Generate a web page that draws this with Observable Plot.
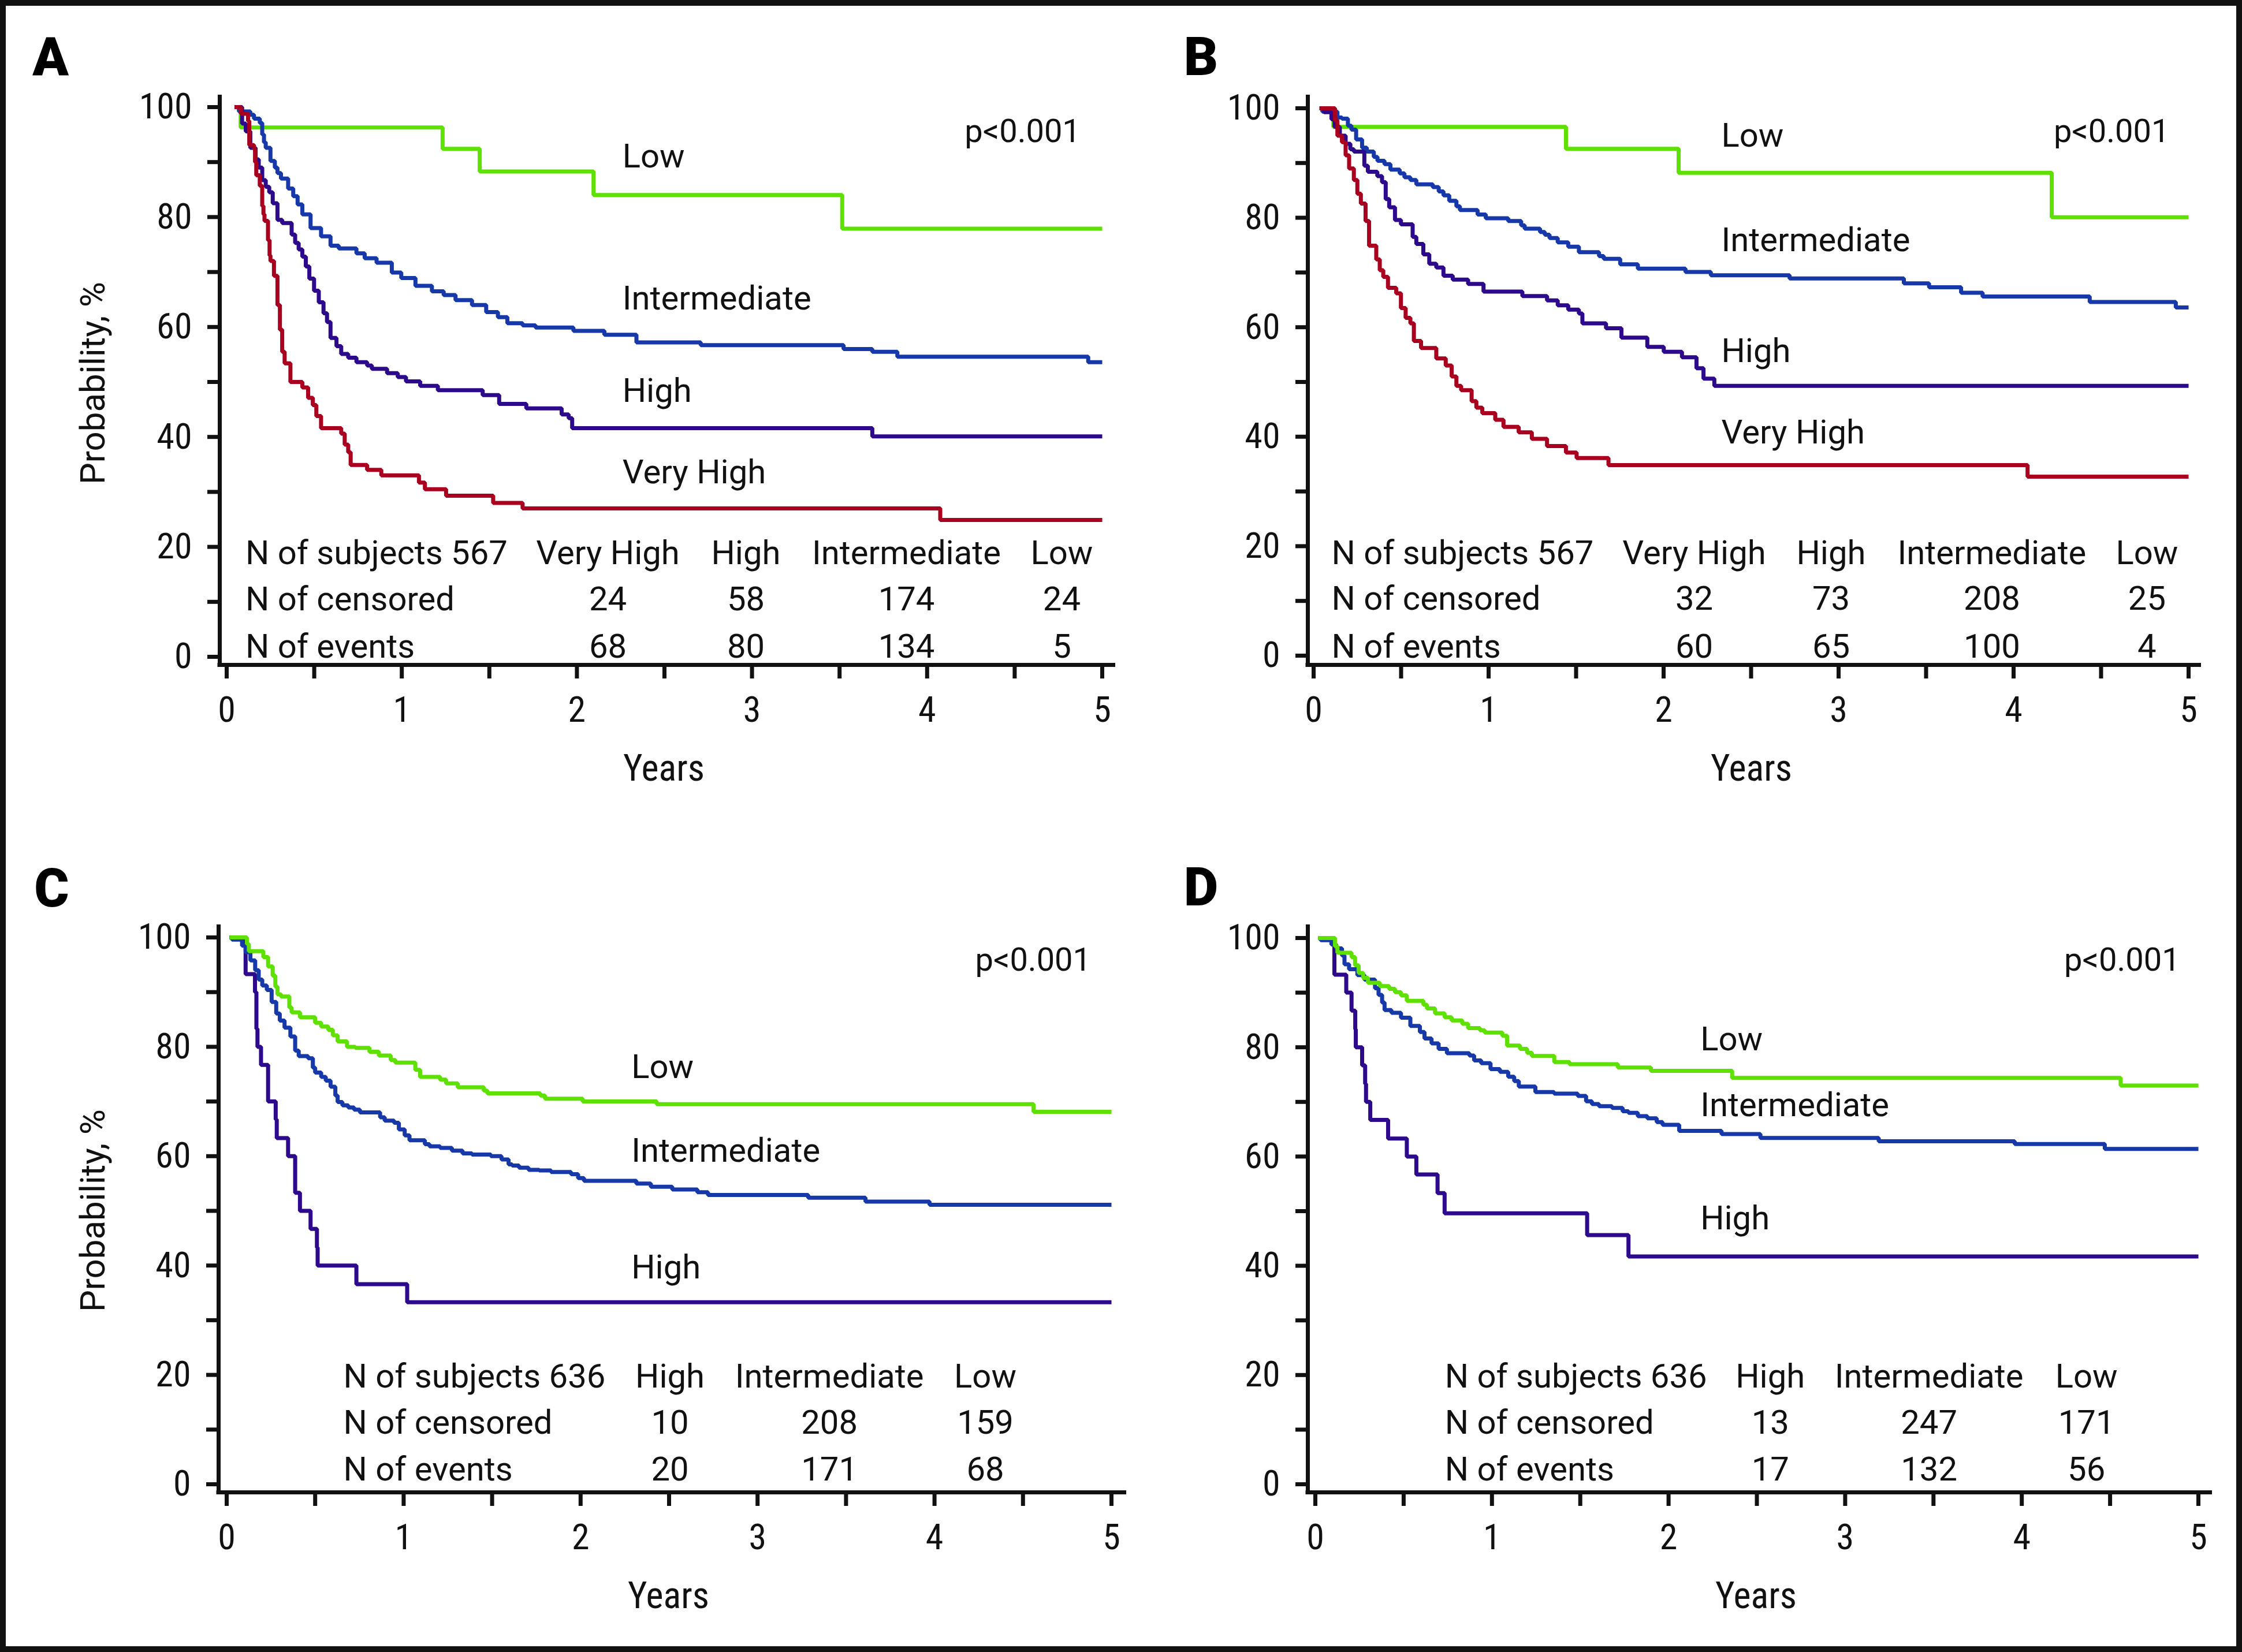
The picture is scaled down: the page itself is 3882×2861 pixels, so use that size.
<!DOCTYPE html>
<html><head><meta charset="utf-8">
<script src="https://cdn.jsdelivr.net/npm/d3@7"></script>
<script src="https://cdn.jsdelivr.net/npm/@observablehq/plot@0.6"></script>
<style>
html,body{margin:0;padding:0;background:#fff;}
#page{position:relative;width:3882px;height:2861px;overflow:hidden;background:#fff;}
#page > svg{position:absolute;}
#border{position:absolute;left:0;top:0;width:3882px;height:2861px;box-sizing:border-box;border:10px solid #111;pointer-events:none;z-index:5;}
</style></head>
<body><div id="page"><div id="border"></div></div>
<script>
// ---------------- DATA (Kaplan-Meier steps: [years, probability %]) ----------------
const groupsAB = ["Very High", "High", "Intermediate", "Low"];
const groupsCD = ["High", "Intermediate", "Low"];
const rowLabels = ["N of censored", "N of events"];
const xTickValues = [0, 0.5, 1, 1.5, 2, 2.5, 3, 3.5, 4, 4.5, 5];
const yTickValues = [0, 10, 20, 30, 40, 50, 60, 70, 80, 90, 100];

// Panel A
const aSubjects = "N of subjects 567";
const aCensored = [24, 58, 174, 24];
const aEvents = [68, 80, 134, 5];
const aLow = [[0.045,100],[0.08,96.3],[1.233,92.4],[1.445,88.3],[2.095,84.0],[3.515,77.9],[5.0,77.9]];
const aInt = [[0.045,100],[0.07,99.2],[0.135,98.6],[0.156,97.9],[0.189,97.1],[0.203,95.0],[0.213,93.6],[0.223,92.6],[0.25,90.2],[0.275,89.0],[0.29,88.0],[0.31,87.0],[0.351,85.2],[0.38,83.8],[0.405,82.3],[0.432,80.5],[0.479,78.0],[0.539,76.5],[0.593,74.8],[0.64,74.3],[0.741,73.4],[0.788,72.5],[0.856,71.7],[0.943,69.9],[0.997,68.9],[1.078,67.5],[1.172,66.5],[1.239,65.8],[1.307,64.9],[1.401,64.0],[1.482,62.7],[1.549,61.8],[1.603,60.7],[1.69,60.3],[1.764,59.9],[1.98,59.3],[2.157,58.6],[2.34,57.2],[2.707,56.7],[3.523,56.0],[3.687,55.5],[3.83,54.6],[4.92,53.6],[5.0,53.6]];
const aHigh = [[0.045,100],[0.088,97.0],[0.109,95.6],[0.135,92.6],[0.165,90.5],[0.183,89.0],[0.203,86.7],[0.223,85.5],[0.243,84.5],[0.263,82.5],[0.29,79.5],[0.317,78.9],[0.371,76.8],[0.391,75.3],[0.411,74.1],[0.432,72.8],[0.452,71.0],[0.472,68.8],[0.499,66.6],[0.526,64.5],[0.553,62.5],[0.573,60.9],[0.593,58.0],[0.627,56.5],[0.654,55.1],[0.694,54.4],[0.741,53.6],[0.802,53.0],[0.829,52.4],[0.916,51.6],[0.977,50.9],[1.024,50.1],[1.105,49.3],[1.206,48.5],[1.462,47.6],[1.556,46.0],[1.711,45.2],[1.913,44.1],[1.953,43.4],[1.973,41.6],[3.687,40.1],[5.0,40.1]];
const aVHigh = [[0.045,100],[0.082,98.8],[0.122,97.5],[0.129,93.1],[0.156,92.4],[0.162,90.0],[0.169,87.6],[0.189,85.7],[0.203,82.0],[0.21,80.5],[0.216,79.3],[0.236,75.8],[0.245,73.0],[0.25,72.0],[0.27,69.3],[0.29,64.0],[0.304,59.5],[0.317,55.5],[0.331,53.4],[0.364,50.0],[0.432,49.0],[0.465,47.1],[0.492,45.8],[0.512,43.8],[0.539,41.6],[0.654,40.6],[0.674,38.6],[0.694,37.2],[0.708,34.9],[0.802,34.0],[0.883,33.0],[1.098,31.7],[1.132,30.5],[1.253,29.3],[1.522,28.0],[1.69,27.0],[4.075,24.9],[5.0,24.9]];

// Panel B
const bSubjects = "N of subjects 567";
const bCensored = [32, 73, 208, 25];
const bEvents = [60, 65, 100, 4];
const bLow = [[0.034,100],[0.113,96.6],[1.442,92.6],[2.086,88.2],[4.218,80.1],[5.0,80.1]];
const bInt = [[0.034,100],[0.05,99.4],[0.136,98.3],[0.162,98.1],[0.196,96.8],[0.216,96.1],[0.243,94.3],[0.277,92.8],[0.304,92.1],[0.344,91.1],[0.365,90.4],[0.405,89.8],[0.439,88.8],[0.492,88.1],[0.519,87.4],[0.553,86.9],[0.587,86.1],[0.681,85.6],[0.715,84.8],[0.742,84.1],[0.775,83.1],[0.816,82.1],[0.836,81.4],[0.937,80.6],[0.984,79.9],[1.112,79.4],[1.186,78.6],[1.206,78.0],[1.294,77.4],[1.321,76.9],[1.348,76.3],[1.395,75.5],[1.455,74.7],[1.516,73.7],[1.631,73.0],[1.658,72.5],[1.752,71.5],[1.853,70.7],[2.125,70.1],[2.27,69.5],[2.72,68.9],[3.373,68.0],[3.517,67.3],[3.70,66.3],[3.823,65.6],[4.435,64.6],[4.927,63.6],[5.0,63.6]];
const bHigh = [[0.034,100],[0.06,99.3],[0.102,98.0],[0.12,96.6],[0.15,95.0],[0.183,93.5],[0.21,92.5],[0.23,92.1],[0.29,89.5],[0.31,88.4],[0.364,87.6],[0.391,86.5],[0.412,83.4],[0.432,81.9],[0.465,79.6],[0.499,78.8],[0.566,76.5],[0.587,75.2],[0.627,73.3],[0.661,71.6],[0.701,70.9],[0.742,69.4],[0.795,68.7],[0.883,67.9],[0.971,66.5],[1.193,65.7],[1.334,64.9],[1.395,64.0],[1.455,63.2],[1.516,62.5],[1.536,60.7],[1.671,59.8],[1.759,58.1],[1.907,56.4],[2.001,55.5],[2.105,54.5],[2.188,52.5],[2.228,50.6],[2.29,49.3],[5.0,49.3]];
const bVHigh = [[0.034,100],[0.122,97.8],[0.136,95.0],[0.162,93.8],[0.183,91.4],[0.203,89.0],[0.23,86.9],[0.25,84.4],[0.27,82.6],[0.297,79.4],[0.317,74.9],[0.358,72.4],[0.378,70.4],[0.398,69.2],[0.425,67.2],[0.472,66.2],[0.499,63.5],[0.526,61.7],[0.553,60.7],[0.573,57.5],[0.614,56.2],[0.701,54.3],[0.755,53.0],[0.789,51.0],[0.816,49.3],[0.843,48.5],[0.903,46.5],[0.93,45.3],[0.964,44.3],[1.038,43.1],[1.085,41.8],[1.172,40.8],[1.247,39.6],[1.334,38.3],[1.442,37.1],[1.503,36.1],[1.685,34.8],[4.08,32.7],[5.0,32.7]];

// Panel C
const cSubjects = "N of subjects 636";
const cCensored = [10, 208, 159];
const cEvents = [20, 171, 68];
const cLow = [[0.016,100],[0.114,98.8],[0.125,97.5],[0.207,96.4],[0.234,94.7],[0.26,93.0],[0.275,91.0],[0.287,89.6],[0.307,89.2],[0.354,87.2],[0.367,86.3],[0.414,85.4],[0.5,84.4],[0.534,83.7],[0.574,83.1],[0.6,82.1],[0.627,81.0],[0.68,80.0],[0.727,79.8],[0.807,79.1],[0.86,78.4],[0.927,77.6],[0.953,77.1],[1.066,75.8],[1.093,74.5],[1.206,74.0],[1.24,73.3],[1.306,72.6],[1.453,72.0],[1.473,71.5],[1.772,71.1],[1.799,70.5],[2.012,70.0],[2.43,69.5],[4.56,68.1],[5.0,68.1]];
const cInt = [[0.016,100],[0.03,99.6],[0.087,98.5],[0.107,97.3],[0.134,95.8],[0.161,94.0],[0.181,92.3],[0.201,91.2],[0.227,90.4],[0.254,88.2],[0.28,86.1],[0.3,84.8],[0.327,83.5],[0.36,81.9],[0.387,79.3],[0.407,78.3],[0.46,77.9],[0.487,76.2],[0.5,75.3],[0.534,74.5],[0.56,73.8],[0.587,72.7],[0.614,71.1],[0.627,69.9],[0.654,69.3],[0.687,68.9],[0.72,68.5],[0.753,68.0],[0.867,67.1],[0.893,66.5],[0.946,66.1],[0.973,64.9],[1.006,63.8],[1.033,62.9],[1.12,62.2],[1.146,61.8],[1.206,61.5],[1.273,61.0],[1.333,60.5],[1.386,60.3],[1.493,60.0],[1.553,59.4],[1.593,58.5],[1.613,58.3],[1.652,57.9],[1.706,57.5],[1.766,57.4],[1.833,57.1],[1.946,56.7],[1.986,56.0],[2.019,55.5],[2.315,55.0],[2.397,54.4],[2.518,53.9],[2.66,53.4],[2.72,52.9],[3.286,52.4],[3.61,51.7],[3.972,51.1],[5.0,51.1]];
const cHigh = [[0.016,100],[0.107,93.3],[0.16,90.0],[0.168,83.3],[0.174,80.0],[0.194,76.7],[0.234,70.0],[0.277,66.7],[0.283,63.3],[0.347,60.0],[0.387,53.3],[0.414,50.0],[0.474,46.7],[0.51,43.3],[0.514,40.0],[0.733,36.6],[1.02,33.3],[5.0,33.3]];

// Panel D
const dSubjects = "N of subjects 636";
const dCensored = [13, 247, 171];
const dEvents = [17, 132, 56];
const dLow = [[0.015,100],[0.111,98.5],[0.125,97.3],[0.205,96.5],[0.225,95.0],[0.245,93.6],[0.271,92.7],[0.298,91.8],[0.365,91.2],[0.418,90.7],[0.451,90.1],[0.485,89.5],[0.518,88.5],[0.612,87.8],[0.632,87.1],[0.678,86.2],[0.732,85.5],[0.772,84.9],[0.832,84.3],[0.865,83.5],[0.932,83.1],[0.959,82.7],[1.059,82.1],[1.086,80.3],[1.159,79.7],[1.199,79.0],[1.226,78.4],[1.353,77.3],[1.439,76.9],[1.713,76.3],[1.9,75.7],[2.36,74.4],[4.56,73.0],[5.0,73.0]];
const dInt = [[0.015,100],[0.03,99.6],[0.091,98.8],[0.118,98.1],[0.151,96.8],[0.165,95.2],[0.191,94.3],[0.238,93.2],[0.278,92.4],[0.338,90.8],[0.358,89.6],[0.378,88.2],[0.392,86.8],[0.431,86.3],[0.485,85.4],[0.538,83.9],[0.592,82.8],[0.618,81.6],[0.658,80.7],[0.698,79.7],[0.745,78.9],[0.872,78.5],[0.899,77.6],[0.939,77.1],[0.992,76.0],[1.045,75.5],[1.092,74.6],[1.126,73.8],[1.152,72.8],[1.246,71.8],[1.352,71.5],[1.486,71.1],[1.533,70.1],[1.566,69.6],[1.606,69.2],[1.68,68.9],[1.74,68.3],[1.773,68.0],[1.826,67.4],[1.88,67.0],[1.933,66.3],[1.966,65.8],[2.06,64.7],[2.3,64.1],[2.52,63.4],[3.19,62.8],[3.96,62.3],[4.47,61.4],[5.0,61.4]];
const dHigh = [[0.015,100],[0.108,93.3],[0.175,90.0],[0.205,86.7],[0.226,83.3],[0.229,80.0],[0.265,76.7],[0.282,73.3],[0.287,70.0],[0.311,66.7],[0.412,63.3],[0.518,60.0],[0.572,56.7],[0.692,53.3],[0.732,49.6],[1.539,45.6],[1.773,41.7],[5.0,41.7]];

// ---------------- STYLE ----------------
const colors = {"Low": "#5ee000", "Intermediate": "#1638a8", "High": "#2d0a8c", "Very High": "#a8001e"};
const INK = "#111";
const FONT = "Roboto, 'Noto Sans', sans-serif";
const COND = "'Roboto Condensed', 'Liberation Sans Narrow', 'DejaVu Sans Condensed', Roboto, sans-serif";

// ---------------- LAYOUT (page pixels) ----------------
const panels = [
  {id: "A", left: 0, top: 0, w: 1941, h: 1430, x0: 392, x5: 1908, y100: 185, y0: 1137,
   axisX: 380, axisTop: 164, axisY: 1151, axisRight: 1931, letter: [87, 100], years: [1149, 1331], prob: [161, 663],
   series: [["Low", aLow], ["Intermediate", aInt], ["High", aHigh], ["Very High", aVHigh]],
   labelX: 2.26, labelY: {"Low": 91.0, "Intermediate": 65.1, "High": 48.3, "Very High": 33.5},
   pX: 4.545, pY: 95.5, tableX: 0.107, tableY: [18.8, 10.4, 1.8], cols: [2.177, 2.965, 3.882, 4.769],
   subjects: aSubjects, groups: groupsAB, censored: aCensored, events: aEvents},
  {id: "B", left: 1941, top: 0, w: 1941, h: 1430, x0: 2274, x5: 3789, y100: 187, y0: 1135,
   axisX: 2264, axisTop: 164, axisY: 1151, axisRight: 3811, letter: [2079, 100], years: [3032, 1331], prob: null,
   series: [["Low", bLow], ["Intermediate", bInt], ["High", bHigh], ["Very High", bVHigh]],
   labelX: 2.33, labelY: {"Low": 94.9, "Intermediate": 75.8, "High": 55.6, "Very High": 40.7},
   pX: 4.56, pY: 95.7, tableX: 0.102, tableY: [18.7, 10.3, 1.6], cols: [2.175, 2.957, 3.876, 4.762],
   subjects: bSubjects, groups: groupsAB, censored: bCensored, events: bEvents},
  {id: "C", left: 0, top: 1430, w: 1941, h: 1431, x0: 392, x5: 1924, y100: 1623, y0: 2570,
   axisX: 378, axisTop: 1601, axisY: 2584, axisRight: 1950, letter: [89, 1540], years: [1157, 2764], prob: [161, 2096],
   series: [["High", cHigh], ["Intermediate", cInt], ["Low", cLow]],
   labelX: 2.287, labelY: {"Low": 76.2, "Intermediate": 60.9, "High": 39.6},
   pX: 4.557, pY: 95.8, tableX: 0.659, tableY: [19.7, 11.2, 2.6], cols: [2.505, 3.406, 4.287],
   subjects: cSubjects, groups: groupsCD, censored: cCensored, events: cEvents},
  {id: "D", left: 1941, top: 1430, w: 1941, h: 1431, x0: 2277, x5: 3806, y100: 1624, y0: 2570,
   axisX: 2264, axisTop: 1601, axisY: 2584, axisRight: 3830, letter: [2079, 1538], years: [3040, 2764], prob: null,
   series: [["High", dHigh], ["Intermediate", dInt], ["Low", dLow]],
   labelX: 2.18, labelY: {"Low": 81.4, "Intermediate": 69.4, "High": 48.6},
   pX: 4.568, pY: 95.9, tableX: 0.733, tableY: [19.7, 11.2, 2.6], cols: [2.576, 3.475, 4.366],
   subjects: dSubjects, groups: groupsCD, censored: dCensored, events: dEvents}
];

function renderPanel(p) {
  const pxX = (p.x5 - p.x0) / 5, pxY = (p.y0 - p.y100) / 100;
  const X = px => (px - p.x0) / pxX;
  const Y = py => (p.y0 - py) / pxY;
  const half = 3.5;

  const lineMarks = p.series.map(([name, pts]) =>
    Plot.line(pts, {x: d => d[0], y: d => d[1], curve: "step-after", stroke: colors[name],
      strokeWidth: 7, strokeLinejoin: "miter", strokeLinecap: "butt"}));

  const labelData = p.series.map(([name]) => ({name, x: p.labelX, y: p.labelY[name]}));

  const headerCells = p.groups.map((g, i) => ({x: p.cols[i], y: p.tableY[0], t: g}));
  const numCells = [];
  p.groups.forEach((g, i) => {
    numCells.push({x: p.cols[i], y: p.tableY[1], t: String(p.censored[i])});
    numCells.push({x: p.cols[i], y: p.tableY[2], t: String(p.events[i])});
  });
  const rowCells = [
    {x: p.tableX, y: p.tableY[0], t: p.subjects},
    {x: p.tableX, y: p.tableY[1], t: rowLabels[0]},
    {x: p.tableX, y: p.tableY[2], t: rowLabels[1]}
  ];

  const marks = [
    // axis lines (offset from the data frame, as in the original)
    Plot.ruleX([X(p.axisX)], {y1: Y(p.axisY + half), y2: Y(p.axisTop), stroke: INK, strokeWidth: 7}),
    Plot.ruleY([Y(p.axisY)], {x1: X(p.axisX - half), x2: X(p.axisRight), stroke: INK, strokeWidth: 7}),
    Plot.axisY(yTickValues, {tickSize: 21, tickPadding: 27, dx: p.axisX - p.x0, color: INK, strokeWidth: 7,
      tickFormat: d => d % 20 === 0 ? String(d) : "", fontSize: 62, fontFamily: COND, label: null}),
    Plot.axisX(xTickValues, {tickSize: 24, tickPadding: 30, dy: p.axisY - p.y0, color: INK, strokeWidth: 7,
      tickFormat: d => Number.isInteger(d) ? String(d) : "", fontSize: 62, fontFamily: COND, label: null}),
    ...lineMarks,
    Plot.text(labelData, {x: "x", y: "y", text: "name", textAnchor: "start", fontSize: 58, fontFamily: FONT, fill: INK}),
    Plot.text(["p<0.001"], {x: () => p.pX, y: () => p.pY, text: d => d, fontSize: 56, fontFamily: FONT, fill: INK}),
    Plot.text(rowCells, {x: "x", y: "y", text: "t", textAnchor: "start", fontSize: 58, fontFamily: FONT, fill: INK}),
    Plot.text(headerCells, {x: "x", y: "y", text: "t", fontSize: 58, fontFamily: FONT, fill: INK}),
    Plot.text(numCells, {x: "x", y: "y", text: "t", fontSize: 58, fontFamily: FONT, fill: INK}),
    Plot.text([p.id], {x: () => X(p.letter[0]), y: () => Y(p.letter[1]), text: d => d, fontSize: 92, fontWeight: 900, fontFamily: FONT, fill: "#000"}),
    Plot.text(["Years"], {x: () => X(p.years[0]), y: () => Y(p.years[1]), text: d => d, fontSize: 64, fontFamily: COND, fill: INK})
  ];
  if (p.prob) {
    marks.push(Plot.text(["Probability, %"], {x: () => X(p.prob[0]), y: () => Y(p.prob[1]), text: d => d, rotate: -90, fontSize: 60, fontFamily: FONT, fill: INK}));
  }

  const svg = Plot.plot({
    width: p.w, height: p.h,
    marginLeft: p.x0 - p.left, marginRight: p.left + p.w - p.x5,
    marginTop: p.y100 - p.top, marginBottom: p.top + p.h - p.y0,
    x: {domain: [0, 5]},
    y: {domain: [0, 100]},
    style: {fontFamily: FONT, fontSize: "58px", color: INK, background: "transparent", overflow: "visible"},
    marks
  });
  svg.style.left = p.left + "px";
  svg.style.top = p.top + "px";
  svg.style.position = "absolute";
  document.getElementById("page").appendChild(svg);
}

panels.forEach(renderPanel);
</script></body></html>
